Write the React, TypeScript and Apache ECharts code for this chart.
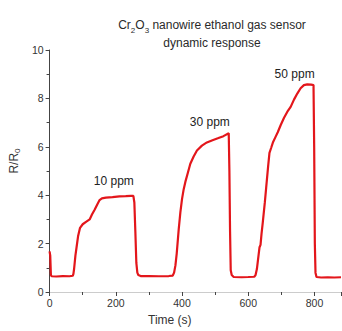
import React, { useEffect, useRef } from "react";
import * as echarts from "echarts";

const timeS: number[] = [0, 2, 4, 6, 20, 40, 60, 70, 72, 74, 78, 82, 86, 92, 100, 110, 121, 128, 136, 144, 151, 158, 170, 190, 211, 230, 245, 253, 256, 259, 262, 265, 268, 275, 300, 330, 360, 372, 376, 380, 384, 390, 395, 400, 405, 410, 418, 425, 435, 445, 460, 475, 490, 510, 525, 541, 543, 545, 547, 550, 556, 580, 600, 618, 622, 626, 630, 634, 637, 640, 644, 650, 654, 660, 664, 669, 675, 682, 689, 698, 708, 718, 728, 738, 748, 758, 768, 778, 790, 797, 799, 801, 803, 806, 820, 840, 860, 880];
const response: number[] = [1.68, 1.5, 0.7, 0.65, 0.64, 0.66, 0.65, 0.67, 0.75, 0.95, 1.5, 1.9, 2.3, 2.65, 2.8, 2.9, 3.0, 3.2, 3.4, 3.62, 3.8, 3.87, 3.9, 3.92, 3.95, 3.96, 3.97, 3.97, 3.7, 2.5, 1.2, 0.8, 0.7, 0.66, 0.66, 0.65, 0.66, 0.68, 0.8, 1.1, 1.6, 2.6, 3.3, 3.85, 4.25, 4.55, 4.95, 5.3, 5.6, 5.85, 6.05, 6.18, 6.26, 6.36, 6.44, 6.56, 5.0, 2.5, 0.9, 0.7, 0.62, 0.61, 0.62, 0.63, 0.7, 0.95, 1.4, 1.85, 1.95, 2.4, 2.9, 3.7, 4.3, 5.2, 5.75, 5.95, 6.2, 6.4, 6.6, 6.9, 7.2, 7.45, 7.65, 7.95, 8.2, 8.42, 8.55, 8.58, 8.57, 8.55, 6.0, 2.0, 0.8, 0.62, 0.6, 0.61, 0.6, 0.61];

const labelTexts: string[] = ["10 ppm", "30 ppm", "50 ppm"];
const labelTimes: number[] = [194, 484, 740];
const labelValues: number[] = [4.57, 7.02, 9.02];

const xTicks = { min: 0, max: 880, interval: 200 };
const yTicks = { min: 0, max: 10, interval: 2 };

const FONT = "Liberation Sans, Arial, sans-serif";

export default function App() {
  const ref = useRef<HTMLDivElement>(null);
  useEffect(() => {
    if (!ref.current) return;
    const chart = echarts.init(ref.current, null, { renderer: "svg" });
    const data = timeS.map((t, i) => [t, response[i]]);
    const axisColor = "#444";
    chart.setOption({
      animation: false,
      backgroundColor: "#fff",
      textStyle: { fontFamily: FONT },
      title: {
        text: "Cr{sub|2}O{sub|3} nanowire ethanol gas sensor\n{n|dynamic response}",
        left: 207,
        top: 11,
        textAlign: "center",
        textStyle: {
          fontFamily: FONT,
          fontSize: 12,
          fontWeight: "normal",
          color: "#2a2a2a",
          lineHeight: 18,
          rich: {
            sub: { fontSize: 8, verticalAlign: "bottom", padding: [6, 0, 0, 0], color: "#2a2a2a", fontFamily: FONT },
            n: { fontSize: 12, color: "#2a2a2a", fontFamily: FONT, lineHeight: 18 },
          },
        },
      },
      grid: { left: 46, top: 50, width: 295, height: 245, containLabel: false },
      xAxis: [
        {
          type: "value",
          min: xTicks.min,
          max: xTicks.max,
          interval: xTicks.interval,
          name: "Time (s)",
          nameLocation: "middle",
          nameGap: 22,
          nameTextStyle: { fontFamily: FONT, fontSize: 12, color: "#333", padding: [0, 51, 0, 0] },
          axisLine: { show: true, onZero: false, lineStyle: { color: axisColor, width: 1 } },
          axisTick: { show: true, inside: false, length: 4, lineStyle: { color: axisColor } },
          minorTick: { show: true, splitNumber: 2, length: 3, lineStyle: { color: axisColor } },
          axisLabel: {
            fontFamily: FONT,
            fontSize: 10.5,
            color: "#333",
            margin: 5,
            showMaxLabel: false,
          },
          splitLine: { show: false },
        },
        {
          type: "value",
          position: "top",
          min: xTicks.min,
          max: xTicks.max,
          axisLine: { show: true, lineStyle: { color: "#ccc", width: 1 } },
          axisTick: { show: false },
          axisLabel: { show: false },
          splitLine: { show: false },
        },
      ],
      yAxis: {
        type: "value",
        min: yTicks.min,
        max: yTicks.max,
        interval: yTicks.interval,
        name: "R/R{sub|0}",
        nameLocation: "middle",
        nameGap: 20,
        nameRotate: 90,
        nameTextStyle: {
          fontFamily: FONT,
          fontSize: 12,
          color: "#333",
          padding: [0, 0, 0, 20],
          rich: {
            sub: { fontSize: 8, verticalAlign: "bottom", padding: [6, 0, 0, 0], color: "#333", fontFamily: FONT },
          },
        },
        axisLine: { show: true, onZero: false, lineStyle: { color: axisColor, width: 1 } },
        axisTick: { show: true, inside: false, length: 4, lineStyle: { color: axisColor } },
        minorTick: { show: true, splitNumber: 2, length: 3, lineStyle: { color: axisColor } },
        axisLabel: { fontFamily: FONT, fontSize: 10.5, color: "#333", margin: 6 },
        splitLine: { show: false },
      },
      series: [
        {
          type: "line",
          data,
          showSymbol: false,
          symbol: "none",
          lineStyle: { color: "#e3161b", width: 2.2 },
          itemStyle: { color: "#e3161b" },
          markPoint: {
            symbol: "circle",
            symbolSize: 0,
            label: {
              show: true,
              position: "inside",
              formatter: (p: any) => p.name,
              fontFamily: FONT,
              fontSize: 12,
              color: "#222",
            },
            data: labelTexts.map((name, i) => ({
              name,
              coord: [labelTimes[i], labelValues[i]],
            })),
          },
        },
      ],
    });
    return () => chart.dispose();
  }, []);
  return (
    <div
      ref={ref}
      style={{ position: "fixed", left: 0, top: 0, width: 342, height: 331 }}
    />
  );
}
